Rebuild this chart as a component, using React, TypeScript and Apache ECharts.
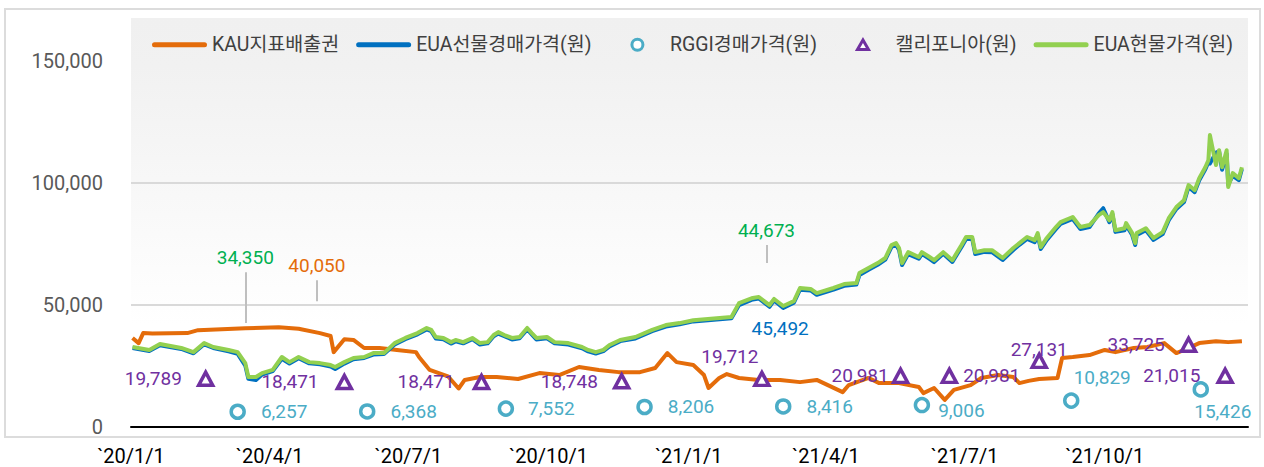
import React, { useEffect, useRef } from "react";
import * as echarts from "echarts";

const FONT = 'Roboto, "Noto Sans CJK KR", "Noto Sans", sans-serif';

// ---------- data ----------
const kauDates = ['2020-01-02','2020-01-06','2020-01-09','2020-01-15','2020-02-07','2020-02-14','2020-03-16','2020-04-07','2020-04-20','2020-05-04','2020-05-11','2020-05-13','2020-05-20','2020-05-26','2020-06-02','2020-06-12','2020-06-25','2020-07-06','2020-07-08','2020-07-15','2020-07-27','2020-08-03','2020-08-07','2020-08-17','2020-08-28','2020-09-11','2020-09-25','2020-10-08','2020-10-21','2020-11-03','2020-11-16','2020-11-30','2020-12-10','2020-12-18','2020-12-24','2021-01-04','2021-01-11','2021-01-14','2021-01-21','2021-01-26','2021-02-03','2021-02-16','2021-03-02','2021-03-15','2021-03-26','2021-04-12','2021-04-16','2021-04-29','2021-05-06','2021-05-19','2021-06-01','2021-06-04','2021-06-11','2021-06-18','2021-06-24','2021-07-05','2021-07-12','2021-07-23','2021-08-02','2021-08-06','2021-08-12','2021-08-19','2021-08-31','2021-09-03','2021-09-10','2021-09-21','2021-10-01','2021-10-08','2021-10-20','2021-10-29','2021-11-09','2021-11-17','2021-11-25','2021-12-02','2021-12-13','2021-12-21','2021-12-30'];
const kauValues = [36500,34400,38500,38300,38500,39700,40500,40900,40300,38500,37300,30700,36000,35700,32400,32400,31500,30700,28700,23400,20800,15800,19300,20500,20500,19700,22100,21300,24600,23400,22500,22500,24200,30300,26600,25400,21300,16000,20100,21700,20100,19300,19300,18400,19300,14300,17200,20100,18000,18000,16400,13900,16000,11100,15200,17200,20100,21300,20500,18000,18900,19700,20100,28300,28700,29500,31600,30700,32400,32800,34400,30300,32400,34400,35200,34800,35200];

const euaDates = ['2020-01-02','2020-01-13','2020-01-20','2020-02-03','2020-02-11','2020-02-18','2020-02-24','2020-03-05','2020-03-11','2020-03-16','2020-03-18','2020-03-23','2020-03-27','2020-04-03','2020-04-09','2020-04-14','2020-04-20','2020-04-27','2020-05-04','2020-05-11','2020-05-14','2020-05-20','2020-05-26','2020-06-02','2020-06-08','2020-06-15','2020-06-22','2020-06-29','2020-07-07','2020-07-13','2020-07-16','2020-07-19','2020-07-24','2020-07-29','2020-08-01','2020-08-06','2020-08-12','2020-08-17','2020-08-22','2020-08-26','2020-08-29','2020-09-02','2020-09-07','2020-09-12','2020-09-17','2020-09-20','2020-09-23','2020-09-30','2020-10-05','2020-10-14','2020-10-23','2020-10-27','2020-11-01','2020-11-06','2020-11-10','2020-11-17','2020-11-27','2020-12-08','2020-12-17','2020-12-26','2021-01-04','2021-01-29','2021-02-03','2021-02-12','2021-02-16','2021-02-23','2021-02-26','2021-03-04','2021-03-11','2021-03-15','2021-03-22','2021-03-26','2021-04-06','2021-04-13','2021-04-21','2021-04-23','2021-04-29','2021-05-05','2021-05-10','2021-05-14','2021-05-17','2021-05-19','2021-05-21','2021-05-25','2021-06-01','2021-06-03','2021-06-08','2021-06-11','2021-06-17','2021-06-23','2021-06-29','2021-07-02','2021-07-06','2021-07-08','2021-07-14','2021-07-19','2021-07-26','2021-08-02','2021-08-06','2021-08-11','2021-08-16','2021-08-18','2021-08-20','2021-08-24','2021-08-30','2021-09-02','2021-09-10','2021-09-15','2021-09-21','2021-09-27','2021-09-30','2021-10-04','2021-10-06','2021-10-08','2021-10-14','2021-10-15','2021-10-19','2021-10-21','2021-10-22','2021-10-28','2021-11-02','2021-11-08','2021-11-12','2021-11-17','2021-11-22','2021-11-25','2021-11-29','2021-12-02','2021-12-06','2021-12-08','2021-12-09','2021-12-13','2021-12-15','2021-12-17','2021-12-20','2021-12-21','2021-12-24','2021-12-28','2021-12-30'];
const euaSpotValues = [32800,31600,34000,32400,30700,34400,32800,31600,30700,26200,20500,20500,22100,23400,28700,26600,28700,26600,26200,25400,24600,26600,28300,28700,30300,30300,34400,36500,38500,40600,39800,36900,36500,34800,35700,34800,36500,34400,34800,37700,38900,37700,36500,36900,40600,38500,36500,36900,34800,34400,32800,31600,30700,31600,33600,35700,36900,39800,41800,42600,43800,45100,50800,52900,53300,50000,52500,49600,51600,57000,56600,54900,57000,58600,59000,63100,65200,67200,69300,74600,75400,73400,67200,71700,69700,71700,69700,68400,71700,68400,74600,77900,77900,71700,72500,72500,69300,73400,75400,77900,76600,79500,73800,77500,82000,84000,86100,82000,82800,86900,88100,84800,88100,80700,81500,83600,79500,75400,79500,81500,77500,79900,85600,90200,93000,99200,97100,102000,106500,109400,119700,107400,113500,106500,113500,98400,104100,102000,106500];
const euaFuturesValues = [32400,31200,33500,32000,30200,33900,32400,31000,30000,25200,19800,19300,21500,22900,28000,26000,28200,26100,25700,24800,23800,26000,27800,28300,29700,29900,33800,36000,38000,40000,39300,36300,36000,34200,35100,34300,36000,33800,34300,37200,38300,37200,35900,36400,40000,38000,35900,36400,34300,33800,32300,31000,30100,31100,33000,35200,36300,39300,41200,42100,43300,44600,50000,52300,52700,49300,51900,48800,51000,56300,56000,54200,56300,57900,58400,62300,64500,66500,68600,73800,74800,72600,66400,70900,69000,71000,68900,67600,71000,67700,73800,77100,77200,70900,71800,71700,68500,72600,74700,77100,75800,78700,73000,76700,81200,83300,85300,81200,82000,87500,89700,84000,87300,80000,80700,82800,78700,74600,78700,80700,76700,79100,84800,89400,92200,98400,96300,101200,105700,108600,108000,112500,113000,105500,112000,99500,103000,101200,105800];

const rggiDates = ['2020-03-11','2020-06-04','2020-09-03','2020-12-03','2021-03-04','2021-06-03','2021-09-09','2021-12-03'];
const rggiValues = [6257, 6368, 7552, 8206, 8416, 9006, 10829, 15426];

const caliDates = ['2020-02-19','2020-05-20','2020-08-18','2020-11-18','2021-02-18','2021-05-20','2021-06-21','2021-08-19','2021-11-25','2021-12-19'];
const caliValues = [19789, 18471, 18471, 18748, 19712, 20981, 20981, 27131, 33725, 21015];

// annotation values (text shown) and where they sit
const annoTexts = ['34,350', '40,050', '44,673'];
const annoDates = ['2020-03-16', '2020-05-02', '2021-02-21'];
const annoFrom = [42600, 51600, 67200];
const annoTo = [63500, 60200, 74600];
const futNoteText = '45,492';
const futNoteDate = '2021-03-02';
const futNoteValue = 40200;

const xTickDates = ['2020-01-01','2020-04-01','2020-07-01','2020-10-01','2021-01-01','2021-04-01','2021-07-01','2021-10-01'];
const xTickLabels = ['`20/1/1','`20/4/1','`20/7/1','`20/10/1','`21/1/1','`21/4/1','`21/7/1','`21/10/1'];
const yTickValues = [0, 50000, 100000, 150000];

const seriesNames = ['KAU지표배출권', 'EUA선물경매가격(원)', 'RGGI경매가격(원)', '캘리포니아(원)', 'EUA현물가격(원)'];

// ---------- styles ----------
const C_KAU = '#e46c0a';
const C_FUT = '#0070c0';
const C_SPOT = '#92d050';
const C_RGGI = '#4bacc6';
const C_CALI = '#7030a0';

const rggiLabelPlace: any[] = [
  { position: 'right', distance: 15 },
  { position: 'right', distance: 15 },
  { position: 'right', distance: 14 },
  { position: 'right', distance: 15 },
  { position: 'right', distance: 15 },
  { position: 'right', distance: 8, offset: [0, 5] },
  { position: 'top', distance: 5, offset: [31, 0] },
  { position: 'bottom', distance: 4, offset: [22, 0] },
];
const caliLabelPlace: any[] = [
  { position: 'left', distance: 15 },
  { position: 'left', distance: 17 },
  { position: 'left', distance: 18 },
  { position: 'left', distance: 15 },
  { position: 'top', distance: 5, offset: [-32, 0] },
  { position: 'left', distance: 3 },
  { position: 'right', distance: 5 },
  { position: 'inside', offset: [0, -11] },
  { position: 'left', distance: 15 },
  { position: 'left', distance: 16 },
];

function ts(s: string): number {
  const [y, m, d] = s.split('-').map(Number);
  return new Date(y, m - 1, d).getTime();
}
const fmt = (v: number) => v.toLocaleString('en-US');

// legend icons: every icon spans the full 55px slot so texts line up like the original
const LINE_ICON = 'path://M2.5,0 L52.5,0 A2.5,2.5 0 0 1 52.5,5 L2.5,5 A2.5,2.5 0 0 1 2.5,0 Z';
const CIRCLE_ICON = 'path://M0,6 L0.01,6 M55,6 L54.99,6 M33,6 A5.5,5.5 0 1 1 22,6 A5.5,5.5 0 1 1 33,6 Z';
const TRI_ICON = 'path://M0,6 L0.01,6 M55,6 L54.99,6 M27.5,1 L33,10.5 L22,10.5 Z';

export default function App() {
  const ref = useRef<HTMLDivElement>(null);
  useEffect(() => {
    if (!ref.current) return;
    const chart = echarts.init(ref.current, null, { renderer: 'svg' });
    const xTickValues = xTickDates.map(ts);

    const labelBase = { fontFamily: FONT, fontSize: 19 };

    const option: any = {
      animation: false,
      textStyle: { fontFamily: FONT },
      graphic: [
        {
          type: 'rect',
          shape: { x: 5, y: 9, width: 1255, height: 428 },
          style: { fill: 'none', stroke: '#dcdcdc', lineWidth: 2 },
          z: -10,
          silent: true,
        },
      ],
      legend: {
        left: 147,
        top: 30,
        itemWidth: 55,
        itemHeight: 12,
        itemGap: 17,
        symbolKeepAspect: true,
        selectedMode: false,
        textStyle: { fontFamily: FONT, fontSize: 19.5, color: '#404040' },
        data: [
          { name: seriesNames[0], icon: LINE_ICON },
          { name: seriesNames[1], icon: LINE_ICON },
          { name: seriesNames[2], icon: CIRCLE_ICON, itemStyle: { borderWidth: 3 } },
          { name: seriesNames[3], icon: TRI_ICON, itemStyle: { borderWidth: 3 } },
          { name: seriesNames[4], icon: LINE_ICON },
        ],
      },
      grid: {
        left: 131,
        right: 16,
        top: 18,
        bottom: 40,
        show: true,
        borderWidth: 0,
        backgroundColor: new echarts.graphic.LinearGradient(0, 0, 0, 1, [
          { offset: 0, color: '#f0f0f0' },
          { offset: 0.12, color: '#f1f1f1' },
          { offset: 0.75, color: '#ffffff' },
          { offset: 1, color: '#ffffff' },
        ]),
      },
      xAxis: {
        type: 'value',
        min: ts('2020-01-01'),
        max: ts('2022-01-03'),
        axisLine: { show: true, lineStyle: { color: '#000', width: 2 } },
        axisTick: { show: false, customValues: xTickValues },
        splitLine: { show: false },
        axisLabel: {
          customValues: xTickValues,
          formatter: (v: number) => {
            const i = xTickValues.indexOf(v);
            return i >= 0 ? xTickLabels[i] : '';
          },
          fontFamily: FONT,
          fontSize: 20,
          color: '#000',
          margin: 19,
          hideOverlap: false,
        },
      },
      yAxis: {
        type: 'value',
        min: 0,
        max: 167700,
        axisLine: { show: false },
        axisTick: { show: false, customValues: yTickValues },
        axisLabel: {
          customValues: yTickValues,
          formatter: (v: number) => fmt(v),
          fontFamily: FONT,
          fontSize: 20,
          color: '#595959',
          margin: 28,
        },
        splitLine: {
          show: true,
          lineStyle: { color: ['rgba(0,0,0,0)', '#d9d9d9', '#d9d9d9', 'rgba(0,0,0,0)'], width: 2 },
        },
      },
      series: [
        {
          name: seriesNames[0],
          type: 'line',
          data: kauDates.map((d, i) => [ts(d), kauValues[i]]),
          symbol: 'none',
          lineStyle: { color: C_KAU, width: 4, join: 'round' },
          itemStyle: { color: C_KAU },
          z: 2,
          markLine: {
            silent: true,
            symbol: ['none', 'none'],
            lineStyle: { color: '#bfbfbf', width: 2, type: 'solid' },
            label: { show: true, position: 'end', distance: 5, ...labelBase, color: C_KAU },
            data: [
              [
                { coord: [ts(annoDates[1]), annoFrom[1]], label: { formatter: annoTexts[1] } },
                { coord: [ts(annoDates[1]), annoTo[1]] },
              ],
            ],
          },
        },
        {
          name: seriesNames[1],
          type: 'line',
          data: euaDates.map((d, i) => [ts(d), euaFuturesValues[i]]),
          symbol: 'none',
          lineStyle: { color: C_FUT, width: 4, join: 'round' },
          itemStyle: { color: C_FUT },
          z: 3,
          markPoint: {
            silent: true,
            symbol: 'circle',
            symbolSize: 0,
            label: { show: true, position: 'inside', ...labelBase, color: C_FUT, formatter: futNoteText },
            data: [{ coord: [ts(futNoteDate), futNoteValue] }],
          },
        },
        {
          name: seriesNames[4],
          type: 'line',
          data: euaDates.map((d, i) => [ts(d), euaSpotValues[i]]),
          symbol: 'none',
          lineStyle: { color: C_SPOT, width: 4, join: 'round' },
          itemStyle: { color: C_SPOT },
          z: 4,
          markLine: {
            silent: true,
            symbol: ['none', 'none'],
            lineStyle: { color: '#bfbfbf', width: 2, type: 'solid' },
            label: { show: true, position: 'end', distance: 5, ...labelBase, color: '#00b050' },
            data: [0, 2].map((k) => [
              { coord: [ts(annoDates[k]), annoFrom[k]], label: { formatter: annoTexts[k] } },
              { coord: [ts(annoDates[k]), annoTo[k]] },
            ]),
          },
        },
        {
          name: seriesNames[2],
          type: 'scatter',
          symbol: 'circle',
          symbolSize: 13,
          itemStyle: { color: '#ffffff', borderColor: C_RGGI, borderWidth: 3.5, opacity: 1 },
          z: 5,
          label: { show: true, ...labelBase, color: C_RGGI, formatter: (p: any) => fmt(p.value[1]) },
          data: rggiDates.map((d, i) => ({ value: [ts(d), rggiValues[i]], label: rggiLabelPlace[i] })),
        },
        {
          name: seriesNames[3],
          type: 'scatter',
          symbol: 'triangle',
          symbolSize: [14, 13],
          itemStyle: { color: '#ffffff', borderColor: C_CALI, borderWidth: 3.5, opacity: 1 },
          z: 6,
          label: { show: true, ...labelBase, color: C_CALI, formatter: (p: any) => fmt(p.value[1]) },
          data: caliDates.map((d, i) => ({ value: [ts(d), caliValues[i]], label: caliLabelPlace[i] })),
        },
      ],
    };
    chart.setOption(option);
    return () => chart.dispose();
  }, []);
  return (
    <div
      ref={ref}
      style={{ position: 'absolute', left: 0, top: 0, width: 1264, height: 467, background: '#fff' }}
    />
  );
}
